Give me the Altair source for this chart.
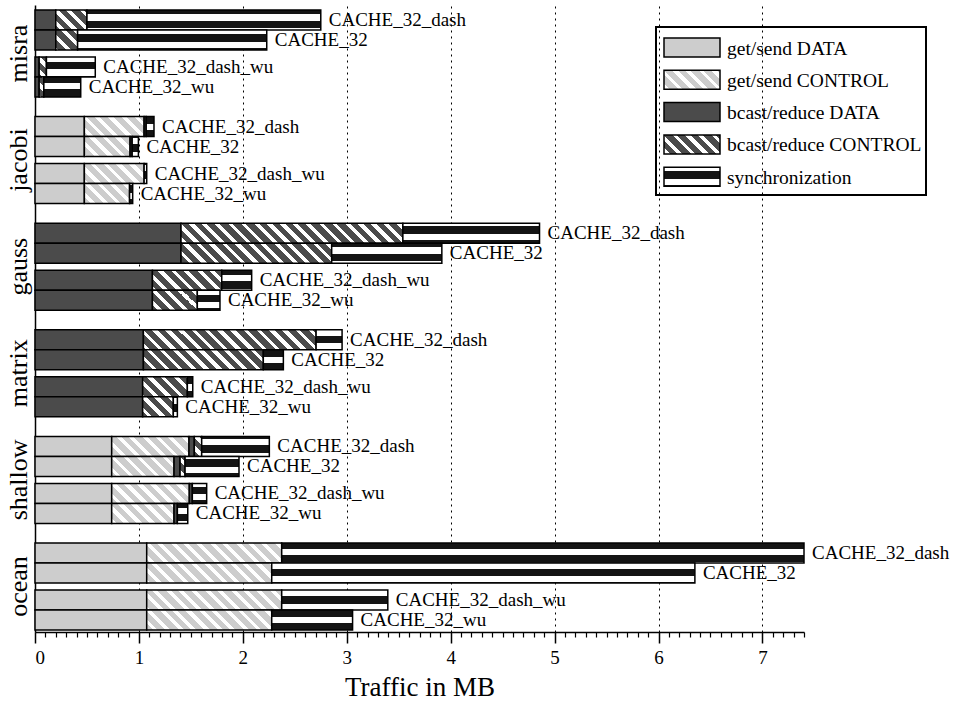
import altair as alt

# ---------------------------------------------------------------------------
# data
# ---------------------------------------------------------------------------
groups = ["misra", "jacobi", "gauss", "matrix", "shallow", "ocean"]
configs = ["CACHE_32_dash", "CACHE_32", "CACHE_32_dash_wu", "CACHE_32_wu"]
categories = ["get/send DATA", "get/send CONTROL", "bcast/reduce DATA",
              "bcast/reduce CONTROL", "synchronization"]

# traffic in MB per category; one row per configuration (same order as configs)
misra = [[0, 0, 0.20, 0.30, 2.25],
         [0, 0, 0.20, 0.21, 1.82],
         [0, 0, 0.04, 0.07, 0.47],
         [0, 0, 0.04, 0.045, 0.355]]
jacobi = [[0.475, 0.575, 0.02, 0, 0.075],
          [0.475, 0.44, 0.02, 0, 0.06],
          [0.475, 0.575, 0, 0, 0.025],
          [0.475, 0.435, 0, 0, 0.03]]
gauss = [[0, 0, 1.405, 2.135, 1.315],
         [0, 0, 1.405, 1.45, 1.06],
         [0, 0, 1.13, 0.667, 0.288],
         [0, 0, 1.13, 0.432, 0.218]]
matrix = [[0, 0, 1.043, 1.662, 0.25],
          [0, 0, 1.043, 1.154, 0.193],
          [0, 0, 1.036, 0.43, 0.052],
          [0, 0, 1.036, 0.295, 0.039]]
shallow = [[0.738, 0.744, 0.051, 0.071, 0.651],
           [0.738, 0.60, 0.058, 0.048, 0.519],
           [0.738, 0.747, 0.029, 0, 0.138],
           [0.738, 0.60, 0.032, 0, 0.10]]
ocean = [[1.075, 1.299, 0, 0, 5.026],
         [1.075, 1.203, 0, 0, 4.072],
         [1.075, 1.299, 0, 0, 1.021],
         [1.075, 1.203, 0, 0, 0.778]]

traffic = {"misra": misra, "jacobi": jacobi, "gauss": gauss,
           "matrix": matrix, "shallow": shallow, "ocean": ocean}

# ---------------------------------------------------------------------------
# layout
# ---------------------------------------------------------------------------
FONT = "Liberation Serif"
X_MAX = 7.4
W, H = 769, 627
Y_MAX = 31.35            # vertical extent in bar-thickness units
PX_X = W / X_MAX
PX_Y = H / Y_MAX
BAR_POS = [0, 1, 2.35, 3.35]   # bar slots inside a benchmark group
GROUP_STEP = 5.33
Y_START = 0.25
GROUP_MID = 2.175

LIGHT = "#cdcdcd"
DARK = "#4b4b4b"
INK = "#141414"
WHITE = "#ffffff"


def stripe_stops(lo, hi, period, phase, on_len, on_col, off_col):
    """Hard-edged gradient stops for stripes along coordinate lo..hi."""
    span = hi - lo

    def col_at(c):
        return on_col if (c - phase) % period < on_len else off_col

    edges = []
    k = int((lo - phase) // period) - 1
    while True:
        a = phase + k * period
        for e in (a, a + on_len):
            if lo < e < hi:
                edges.append(e)
        if a > hi:
            break
        k += 1
    edges.sort()
    cur = col_at(lo + 1e-6)
    stops = [{"offset": 0, "color": cur}]
    for e in edges:
        t = round((e - lo) / span, 5)
        stops.append({"offset": t, "color": cur})
        cur = col_at(e + 1e-6)
        stops.append({"offset": t, "color": cur})
    stops.append({"offset": 1, "color": cur})
    return stops


def hatch(x0, y0, w, h, base):
    """Diagonal '\\' white hatching over a base colour (pixel geometry)."""
    q_lo, q_hi = x0 - y0 - h, x0 + w - y0
    stops = stripe_stops(q_lo, q_hi, 13.0, 0.0, 5.0, WHITE, base)
    a, b = w / (w + h), -h / (w + h)
    n = a * a + b * b
    return {"gradient": "linear", "x1": 0, "y1": 1,
            "x2": round(a / n, 6), "y2": round(1 + b / n, 6), "stops": stops}


def bands(y0, h):
    """Horizontal black/white banding for synchronization traffic."""
    stops = stripe_stops(y0, y0 + h, 13.7, 550 % 13.7, 7.5, INK, WHITE)
    return {"gradient": "linear", "x1": 0, "y1": 0, "x2": 0, "y2": 1,
            "stops": stops}


def seg_fill(ci, x0, y0, w, h):
    if ci == 0:
        return LIGHT
    if ci == 1:
        return hatch(x0, y0, w, h, LIGHT)
    if ci == 2:
        return DARK
    if ci == 3:
        return hatch(x0, y0, w, h, DARK)
    return bands(y0, h)


segments, totals, group_rows = [], [], []
for gi, g in enumerate(groups):
    group_rows.append({"group": g, "center": Y_START + gi * GROUP_STEP + GROUP_MID})
    for bi, cfg in enumerate(configs):
        top = Y_START + gi * GROUP_STEP + BAR_POS[bi]
        start = 0.0
        for ci, v in enumerate(traffic[g][bi]):
            if v <= 0:
                continue
            end = start + v
            segments.append({
                "group": g, "config": cfg, "category": categories[ci],
                "start": start, "end": end, "top": top, "bottom": top + 1,
                "fill": seg_fill(ci, start * PX_X, top * PX_Y, v * PX_X, PX_Y),
            })
            start = end
        totals.append({"group": g, "config": cfg, "total": start,
                       "mid": top + 0.5})

# ---------------------------------------------------------------------------
# scales & axes
# ---------------------------------------------------------------------------
x_scale = alt.Scale(domain=[0, X_MAX], nice=False, zero=True)
y_scale = alt.Scale(domain=[0, Y_MAX], reverse=True, nice=False, zero=False)

y_axis = alt.Axis(labels=False, ticks=False, grid=False,
                  domainColor="black", domainWidth=1.5, title=None)

x_axis_major = alt.Axis(
    orient="bottom", values=list(range(8)), format="d",
    tickSize=11, tickWidth=1.5, tickColor="black",
    domainColor="black", domainWidth=1.5,
    labelFont=FONT, labelFontSize=19, labelColor="black", labelPadding=5,
    grid=True, gridDash=[2, 4], gridColor="black", gridWidth=1, gridOpacity=1,
    title="Traffic in MB", titleFont=FONT, titleFontSize=27,
    titleFontWeight="normal", titleColor="black", titlePadding=7,
)

x_axis_minor = alt.Axis(
    orient="bottom",
    values=[round(i * 0.1, 1) for i in range(75) if i % 10],
    tickSize=5, tickWidth=1.2, tickColor="black",
    labels=False, domain=False, grid=False, title=None,
)

# ---------------------------------------------------------------------------
# layers
# ---------------------------------------------------------------------------
bars = alt.Chart(alt.Data(values=segments)).mark_rect(
    stroke="black", strokeWidth=1.5
).encode(
    x=alt.X("start:Q", scale=x_scale, axis=x_axis_major),
    x2="end:Q",
    y=alt.Y("top:Q", scale=y_scale, axis=y_axis),
    y2="bottom:Q",
    fill=alt.Fill("fill:N", scale=None),
)

labels = alt.Chart(alt.Data(values=totals)).mark_text(
    align="left", baseline="middle", dx=8, font=FONT, fontSize=19, color="black"
).encode(
    x=alt.X("total:Q", scale=x_scale, axis=x_axis_minor),
    y=alt.Y("mid:Q", scale=y_scale, axis=y_axis),
    text="config:N",
)

# benchmark names, rotated, left of the y axis
group_labels = alt.Chart(alt.Data(values=group_rows)).mark_text(
    angle=270, align="center", baseline="alphabetic",
    font=FONT, fontSize=26, color="black"
).encode(
    x=alt.value(-8),
    y=alt.Y("center:Q", scale=y_scale, axis=y_axis),
    text="group:N",
)

# legend drawn inside the plot, top right
LEG_X0, LEG_X1, LEG_Y0, LEG_Y1 = 621, 891, 22, 190
SW_X0, SW_W, SW_H = 629, 56, 19
ROW_Y0, ROW_STEP = 33, 32.3

legend_layers = [
    alt.Chart(alt.Data(values=[{"k": "frame"}])).mark_rect(
        fill=None, fillOpacity=0, stroke="black", strokeWidth=2
    ).encode(x=alt.value(LEG_X0), x2=alt.value(LEG_X1),
             y=alt.value(LEG_Y0), y2=alt.value(LEG_Y1))
]
for i, cat in enumerate(categories):
    ry = ROW_Y0 + i * ROW_STEP
    swatch_fill = seg_fill(i, SW_X0, ry, SW_W, SW_H)
    legend_layers.append(
        alt.Chart(alt.Data(values=[{"k": cat}])).mark_rect(
            fill=swatch_fill, stroke="black", strokeWidth=1.5
        ).encode(x=alt.value(SW_X0), x2=alt.value(SW_X0 + SW_W),
                 y=alt.value(ry), y2=alt.value(ry + SW_H))
    )
    legend_layers.append(
        alt.Chart(alt.Data(values=[{"k": cat}])).mark_text(
            align="left", baseline="middle", font=FONT, fontSize=19.5, color="black"
        ).encode(x=alt.value(SW_X0 + SW_W + 7), y=alt.value(ry + SW_H / 2 + 1),
                 text="k:N")
    )

chart = alt.layer(bars, labels, group_labels, *legend_layers).resolve_axis(
    x="independent"
).properties(
    width=W, height=H,
    autosize=alt.AutoSizeParams(type="none"),
    padding={"left": 35, "top": 5, "right": 152, "bottom": 70},
    background="white",
).configure_view(
    strokeWidth=0
).configure_axis(
    labelFont=FONT, titleFont=FONT
)

chart.save("out.html", embed_options={"renderer": "svg", "actions": False})
